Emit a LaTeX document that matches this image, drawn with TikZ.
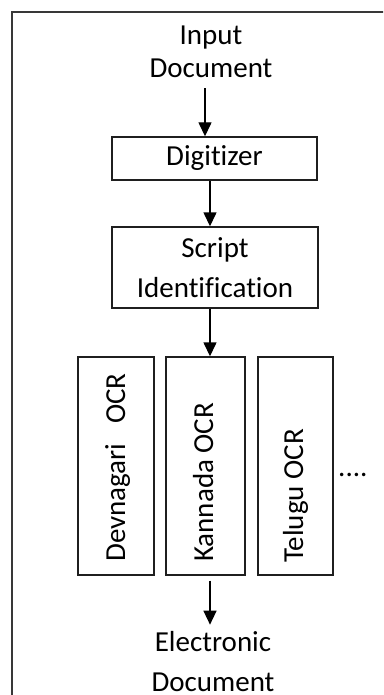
\documentclass[tikz,border=0pt]{standalone}
\usepackage{fontspec}
\setmainfont[Ligatures=NoCommon]{Carlito}
\usetikzlibrary{arrows.meta}
\begin{document}
\begin{tikzpicture}[x=1pt,y=-1pt,
  every node/.style={font=\fontsize{29}{33}\selectfont, inner sep=0pt},
  procbox/.style={draw=black!88, line width=1.4pt},
  twoline/.style={align=center, font=\fontsize{29}{40}\selectfont},
  arr/.style={line width=1.4pt, -{Triangle[width=13pt,length=14pt]}},
  ]
\useasboundingbox (0,0) rectangle (383,695);
\clip (0,0) rectangle (383,695);
\fill[white] (0,0) rectangle (383,695);
% outer frame
\draw[line width=2pt, black!78] (12,710) -- (12,12) -- (400,12);

% input and processing stages (base = baseline of the last line)
\node[align=center, anchor=base] (input) at (211,78) {Input\\Document};
\node[procbox, minimum width=205pt, minimum height=43pt] (digit) at (214.5,158.5) {Digitizer};
\node[procbox, twoline, minimum width=206pt, minimum height=81pt] (script) at (215,267.5) {Script\\Identification};

% script-specific recognisers
\node[procbox, minimum width=76pt, minimum height=218pt] (dev) at (116,466) {};
\node[procbox, minimum width=79pt, minimum height=218pt] (kan) at (205.5,466) {};
\node[procbox, minimum width=75pt, minimum height=218pt] (tel) at (295.5,466) {};
\node[rotate=90, anchor=base west] (devlabel) at (125,562) {Devnagari\hspace{20pt}OCR};
\node[rotate=90, anchor=base west] (kanlabel) at (213,562) {Kannada OCR};
\node[rotate=90, anchor=base west] (tellabel) at (303,563) {Telugu OCR};
\node[anchor=base west] (more) at (338,476) {....};

% output
\node[twoline, anchor=base] (output) at (213,691) {Electronic\\Document};

% connectors
\coordinate (a1) at ([shift={(-6,10)}]input.south);
\draw[arr] (a1) -- (a1 |- digit.north);
\draw[arr] ([xshift=-4.5pt]digit.south) -- ([xshift=-5pt]script.north);
\draw[arr] ([xshift=-5pt]script.south) -- ([xshift=4.5pt]kan.north);
\coordinate (a4) at ([shift={(4.5,5)}]kan.south);
\coordinate (a4e) at (a4 |- output.north);
\draw[arr] (a4) -- ([shift={(0,-6)}]a4e);
\end{tikzpicture}
\end{document}
